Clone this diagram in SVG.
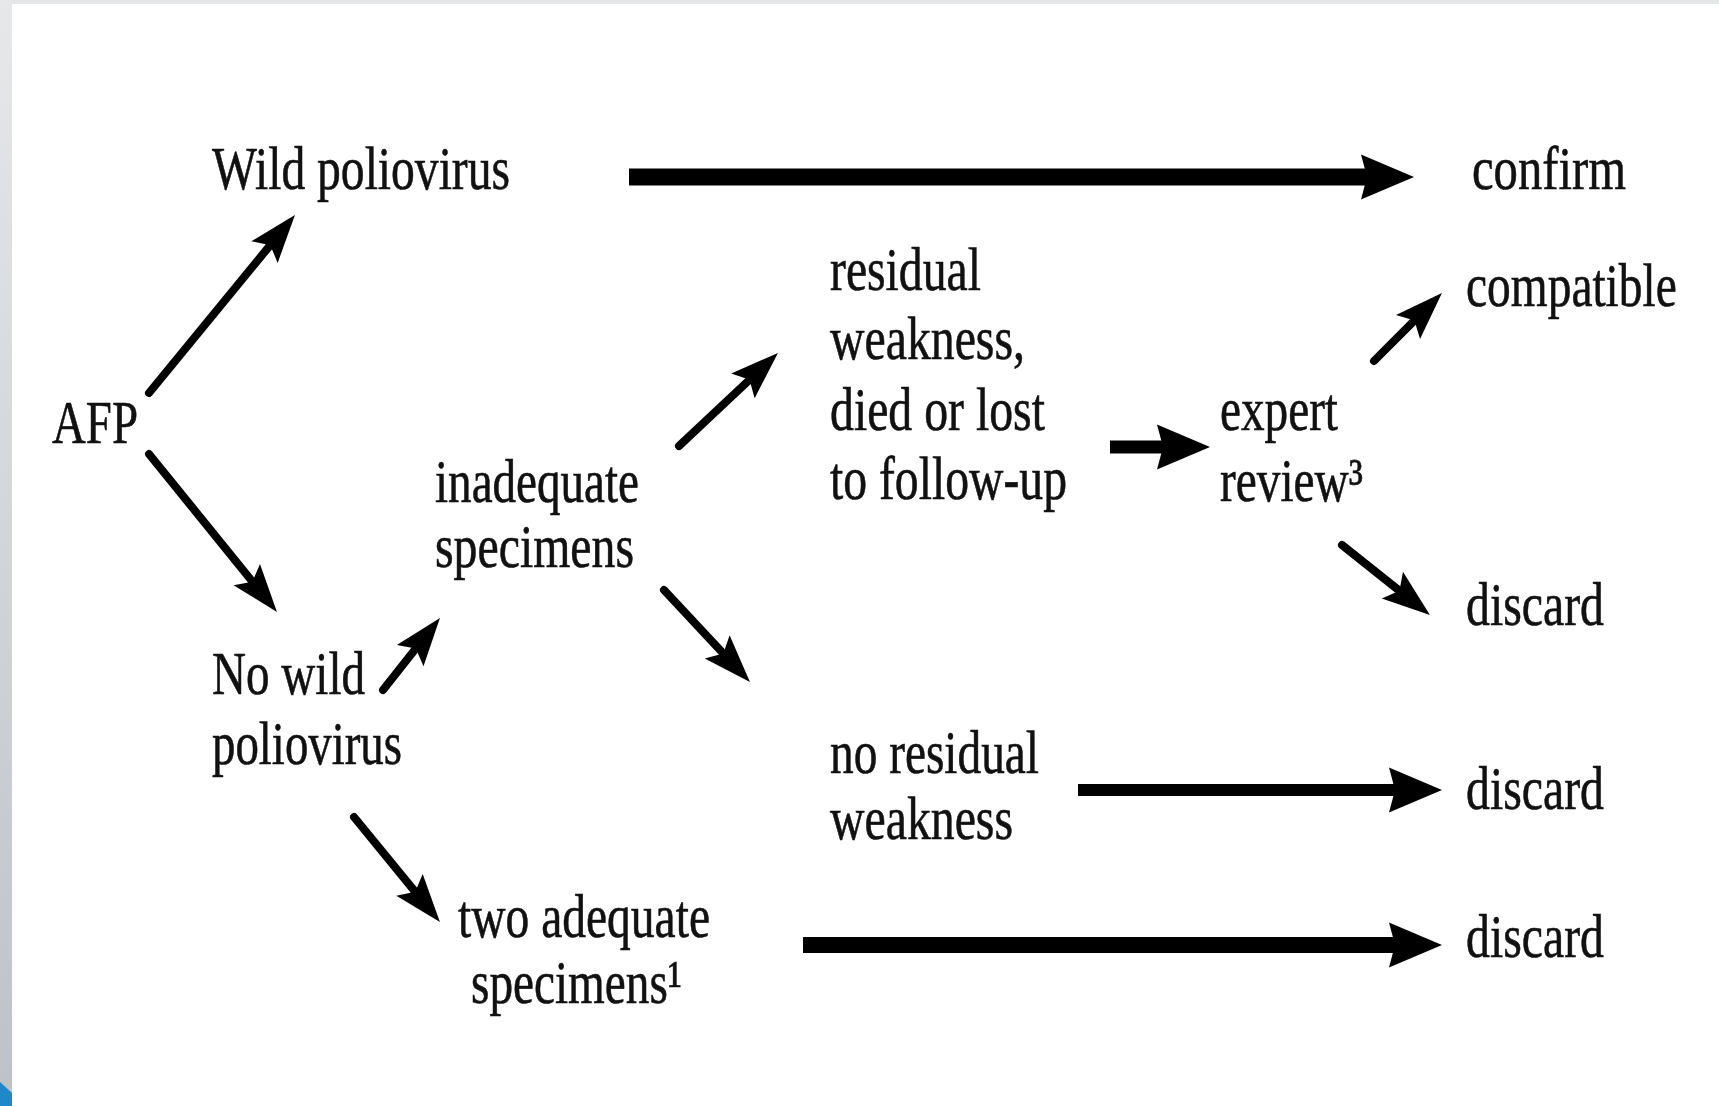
<svg xmlns="http://www.w3.org/2000/svg" width="1719" height="1106" viewBox="0 0 1719 1106">
  <style>
    .t { font-family: "Liberation Serif", "Times New Roman", serif; font-size: 62px; fill: #111; stroke: #111; stroke-width: 0.6; }
    .sm { stroke: #000; stroke-width: 8; stroke-linecap: round; fill: none; }
    .lg { stroke: #000; stroke-linecap: butt; fill: none; }
  </style>
  <defs>
    <linearGradient id="band" x1="0" y1="0" x2="0" y2="1">
      <stop offset="0" stop-color="#e6e8ea"/>
      <stop offset="1" stop-color="#bcc2c7"/>
    </linearGradient>
    <marker id="head-lg" markerUnits="userSpaceOnUse" orient="auto" markerWidth="60" markerHeight="50" refX="8" refY="0" viewBox="0 -25 60 50" overflow="visible">
      <path d="M0,-22.5 L53,0 L0,22.5 L6,0 Z" fill="#000"/>
    </marker>
    <marker id="head-sm" markerUnits="userSpaceOnUse" orient="auto" markerWidth="50" markerHeight="40" refX="11" refY="0" viewBox="0 -20 50 40" overflow="visible">
      <path d="M0,-17 L48,0 L0,17 L9,0 Z" fill="#000"/>
    </marker>
  </defs>

  <rect x="0" y="0" width="1719" height="1106" fill="#ffffff"/>
  <rect x="0" y="0" width="1719" height="4" fill="#e4e6e8"/>
  <rect x="0" y="0" width="12" height="1106" fill="url(#band)"/>
  <polygon points="0,1082 12,1093 12,1106 0,1106" fill="#1e88c8"/>

  <g id="connectors">
    <line class="lg" x1="629" y1="177" x2="1369" y2="177" stroke-width="17" marker-end="url(#head-lg)"/>
    <line class="lg" x1="1110" y1="447" x2="1165" y2="447" stroke-width="13" marker-end="url(#head-lg)"/>
    <line class="lg" x1="1078" y1="790" x2="1397" y2="790" stroke-width="12" marker-end="url(#head-lg)"/>
    <line class="lg" x1="803" y1="945" x2="1397" y2="945" stroke-width="16" marker-end="url(#head-lg)"/>

    <line class="sm" x1="149" y1="393" x2="271.5" y2="243.6" marker-end="url(#head-sm)"/>
    <line class="sm" x1="149" y1="454" x2="253.7" y2="583.2" marker-end="url(#head-sm)"/>
    <line class="sm" x1="383" y1="690" x2="417" y2="647" marker-end="url(#head-sm)"/>
    <line class="sm" x1="354" y1="817" x2="416.5" y2="893.4" marker-end="url(#head-sm)"/>
    <line class="sm" x1="679" y1="446" x2="751" y2="378.3" marker-end="url(#head-sm)"/>
    <line class="sm" x1="664" y1="590" x2="724.7" y2="655" marker-end="url(#head-sm)"/>
    <line class="sm" x1="1374" y1="361" x2="1415.8" y2="319.2" marker-end="url(#head-sm)"/>
    <line class="sm" x1="1342" y1="545" x2="1401" y2="592" marker-end="url(#head-sm)"/>
  </g>

  <g id="afp"><text class="t" x="52" y="443" textLength="86" lengthAdjust="spacingAndGlyphs">AFP</text></g>
  <g id="wild"><text class="t" x="212" y="189" textLength="298" lengthAdjust="spacingAndGlyphs">Wild poliovirus</text></g>
  <g id="confirm"><text class="t" x="1472" y="189" textLength="154" lengthAdjust="spacingAndGlyphs">confirm</text></g>
  <g id="residual">
    <text class="t" x="830" y="290" textLength="151" lengthAdjust="spacingAndGlyphs">residual</text>
    <text class="t" x="830" y="359" textLength="195" lengthAdjust="spacingAndGlyphs">weakness,</text>
    <text class="t" x="830" y="430" textLength="215" lengthAdjust="spacingAndGlyphs">died or lost</text>
    <text class="t" x="830" y="499" textLength="237" lengthAdjust="spacingAndGlyphs">to follow-up</text>
  </g>
  <g id="compatible"><text class="t" transform="translate(1466,306) scale(0.75,1)" x="0" y="0" textLength="281" lengthAdjust="spacingAndGlyphs">compatible</text></g>
  <g id="inadequate">
    <text class="t" x="435" y="502" textLength="204" lengthAdjust="spacingAndGlyphs">inadequate</text>
    <text class="t" x="435" y="567" textLength="199" lengthAdjust="spacingAndGlyphs">specimens</text>
  </g>
  <g id="expert">
    <text class="t" x="1220" y="430" textLength="118" lengthAdjust="spacingAndGlyphs">expert</text>
    <text class="t" x="1220" y="501" textLength="143" lengthAdjust="spacingAndGlyphs">review³</text>
  </g>
  <g id="discard1"><text class="t" x="1466" y="625" textLength="138" lengthAdjust="spacingAndGlyphs">discard</text></g>
  <g id="nowild">
    <text class="t" x="212" y="694" textLength="153" lengthAdjust="spacingAndGlyphs">No wild</text>
    <text class="t" x="212" y="764" textLength="190" lengthAdjust="spacingAndGlyphs">poliovirus</text>
  </g>
  <g id="noresidual">
    <text class="t" x="830" y="773" textLength="209" lengthAdjust="spacingAndGlyphs">no residual</text>
    <text class="t" x="830" y="839" textLength="183" lengthAdjust="spacingAndGlyphs">weakness</text>
  </g>
  <g id="discard2"><text class="t" x="1466" y="809" textLength="138" lengthAdjust="spacingAndGlyphs">discard</text></g>
  <g id="twoadequate">
    <text class="t" x="458" y="937" textLength="252" lengthAdjust="spacingAndGlyphs">two adequate</text>
    <text class="t" x="471" y="1003" textLength="211" lengthAdjust="spacingAndGlyphs">specimens¹</text>
  </g>
  <g id="discard3"><text class="t" x="1466" y="957" textLength="138" lengthAdjust="spacingAndGlyphs">discard</text></g>
</svg>
